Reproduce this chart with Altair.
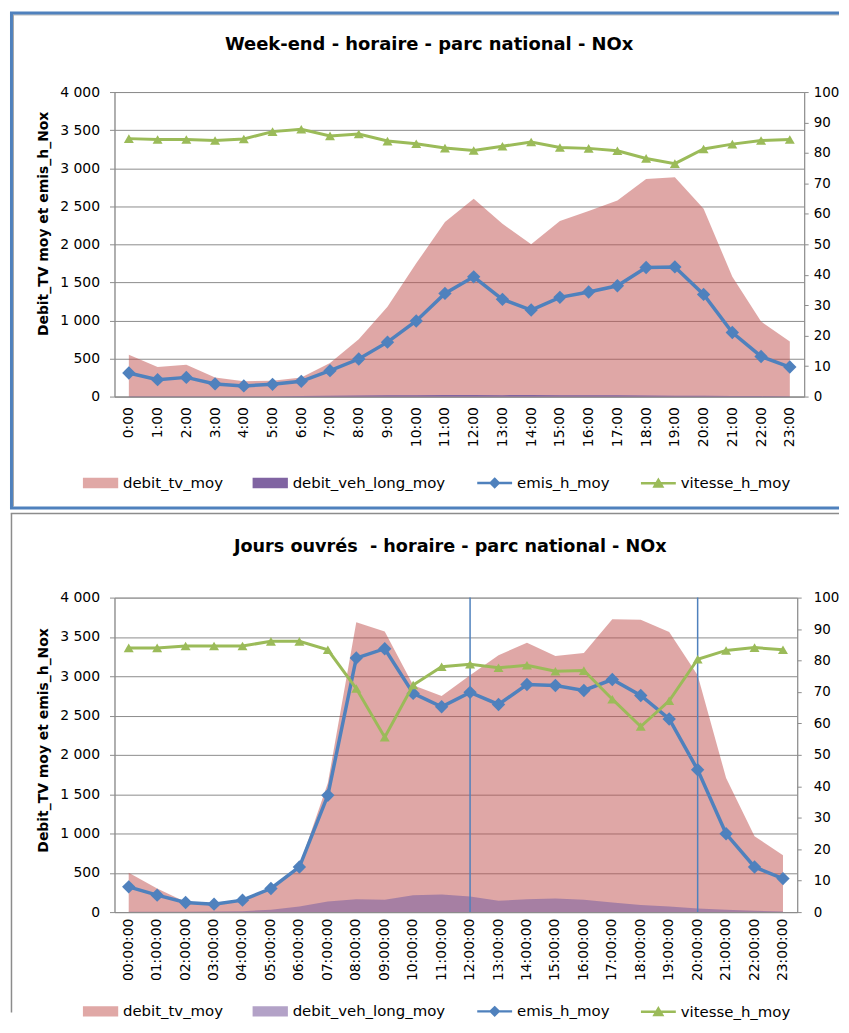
import altair as alt
import pandas as pd

# ---------------- data ----------------
hours_we = [f"{h}:00" for h in range(24)]
hours_jo = [f"{h:02d}:00:00" for h in range(24)]

debit_tv_we = [549, 388, 418, 252, 200, 209, 252, 440, 754, 1180, 1750, 2292,
               2597, 2270, 2000, 2305, 2436, 2575, 2858, 2880, 2466, 1573, 985, 723]
debit_veh_long_we = [5, 4, 3, 3, 3, 4, 6, 10, 14, 17, 19, 20,
                     20, 19, 20, 18, 17, 16, 14, 12, 10, 8, 6, 4]
emis_we = [310, 222, 252, 166, 140, 161, 200, 340, 493, 715, 993, 1355,
           1573, 1277, 1137, 1303, 1373, 1455, 1695, 1703, 1342, 841, 527, 388]
vitesse_we = [84.7, 84.4, 84.4, 84.1, 84.6, 87.0, 87.8, 85.6, 86.2, 83.9, 83.0, 81.6,
              80.8, 82.2, 83.6, 81.8, 81.5, 80.7, 78.2, 76.5, 81.3, 82.9, 84.1, 84.4]

debit_tv_jo = [502, 300, 130, 120, 160, 300, 586, 1641, 3688, 3570, 2886, 2747,
               3013, 3266, 3426, 3257, 3295, 3725, 3717, 3561, 3013, 1705, 966, 722]
debit_veh_long_jo = [5, 5, 5, 8, 12, 30, 72, 135, 165, 156, 215, 224,
                     198, 143, 165, 173, 156, 122, 89, 72, 46, 30, 17, 8]
emis_jo = [321, 215, 122, 101, 152, 300, 574, 1485, 3232, 3350, 2781, 2612,
           2795, 2641, 2895, 2882, 2819, 2958, 2755, 2456, 1810, 996, 574, 426]
vitesse_jo = [84.0, 84.0, 84.6, 84.6, 84.6, 86.1, 86.1, 83.4, 71.1, 55.6, 72.2, 78.0,
              78.8, 77.7, 78.5, 76.6, 76.8, 67.7, 59.0, 67.2, 80.4, 83.2, 84.1, 83.4]
rules_jo = ["12:00:00", "20:00:00"]

series = ["debit_tv_moy", "debit_veh_long_moy", "emis_h_moy", "vitesse_h_moy"]
y_left_ticks = list(range(0, 4001, 500))
y_right_ticks = list(range(0, 101, 10))

FONT = "DejaVu Sans"
GRID = "#8C8C8C"
RED = "#C0504D"
BLUE = "#4F81BD"
GREEN = "#9BBB59"
PURPLE = "#8064A2"

one = pd.DataFrame({"k": [0]})


def hline(y, x1, x2, color, w):
    return alt.Chart(one).mark_rule(color=color, strokeWidth=w).encode(
        x=alt.value(x1), x2=alt.value(x2), y=alt.value(y), y2=alt.value(y))


def vline(x, y1, y2, color, w):
    return alt.Chart(one).mark_rule(color=color, strokeWidth=w).encode(
        x=alt.value(x), x2=alt.value(x), y=alt.value(y1), y2=alt.value(y2))


def panel(hours, tv, veh, emis, vit, title, title_dx, title_y, title_size, width, height,
          veh_opacity, veh_legend_color, frames, legend_y, xlab_pad, rlab_pad, ytitle_y,
          rules=None):
    df = pd.DataFrame({"hour": hours, "tv": tv, "veh": veh, "emis": emis, "vit": vit})
    xenc = alt.X("hour:N", sort=hours, scale=alt.Scale(domain=hours),
                 axis=alt.Axis(title=None, labelAngle=270, ticks=False, labelPadding=xlab_pad,
                               labelFontSize=14, labelColor="black", domainColor=GRID,
                               grid=False, labelFont=FONT))
    yscale = alt.Scale(domain=[0, 4000], nice=False)
    laxis = alt.Axis(title="Debit_TV moy et emis_h_Nox", values=y_left_ticks,
                     labelExpr="replace(format(datum.value, ','), ',', ' ')",
                     grid=True, gridColor=GRID, domainColor=GRID, tickColor=GRID,
                     tickSize=5, labelPadding=10, labelFontSize=14, labelColor="black",
                     titleFontSize=14, titleFontWeight="bold", titleColor="black",
                     titleAngle=270, titleX=-71, titleY=ytitle_y, titleAlign="center",
                     titleBaseline="middle", labelFont=FONT, titleFont=FONT)
    base = alt.Chart(df)
    a_tv = base.mark_area(color=RED, opacity=0.5).encode(
        x=xenc, y=alt.Y("tv:Q", scale=yscale, axis=laxis))
    a_veh = base.mark_area(color=PURPLE, opacity=veh_opacity).encode(
        x=xenc, y=alt.Y("veh:Q", scale=yscale, axis=laxis))
    l_emis = base.mark_line(color=BLUE, strokeWidth=3.5,
                            point=alt.OverlayMarkDef(shape="diamond", size=180, filled=True,
                                                     color=BLUE)).encode(
        x=xenc, y=alt.Y("emis:Q", scale=yscale, axis=laxis))
    left_layers = [a_tv, a_veh]
    if rules:
        rdf = pd.DataFrame({"hour": rules})
        left_layers.append(alt.Chart(rdf).mark_rule(color=BLUE, strokeWidth=1.5).encode(x=xenc))
    left_layers.append(l_emis)
    left = alt.layer(*left_layers)
    right = base.mark_line(color=GREEN, strokeWidth=3,
                           point=alt.OverlayMarkDef(shape="triangle-up", size=100, filled=True,
                                                    color=GREEN)).encode(
        x=xenc,
        y=alt.Y("vit:Q", scale=alt.Scale(domain=[0, 100], nice=False),
                axis=alt.Axis(orient="right", title=None, values=y_right_ticks, grid=False,
                              domainColor=GRID, tickColor=GRID, tickSize=4,
                              labelPadding=rlab_pad, labelFontSize=13.5, labelColor="black",
                              labelFont=FONT)))

    fills = ["#E0A8A6", veh_legend_color, BLUE, GREEN]
    shapes = ["M-2.06,-0.5H2.06V0.5H-2.06Z",
              "M-2.06,-0.5H2.06V0.5H-2.06Z",
              "M-2.19,0H2.19M0,-0.5L0.5,0L0,0.5L-0.5,0Z",
              "M-2.19,0H2.19M-0.48,0.4L0,-0.42L0.48,0.4Z"]
    leg = alt.Legend(orient="none", legendX=-23.5, legendY=legend_y, direction="horizontal",
                     columns=4, columnPadding=25.5, symbolSize=256, symbolStrokeWidth=2.5,
                     labelFontSize=15, labelOffset=13, labelColor="black", labelFont=FONT,
                     title=None, padding=0, symbolOpacity=1)
    ldf = pd.DataFrame({"series": series})
    legend_layer = alt.Chart(ldf).mark_point(opacity=0, filled=True).encode(
        fill=alt.Fill("series:N", scale=alt.Scale(domain=series, range=fills), legend=leg),
        stroke=alt.Stroke("series:N", scale=alt.Scale(domain=series, range=fills), legend=leg),
        shape=alt.Shape("series:N", scale=alt.Scale(domain=series, range=shapes), legend=leg))

    ttl = alt.Chart(one).mark_text(text=title, align="left", baseline="middle",
                                   fontSize=title_size, fontWeight="bold", font=FONT,
                                   color="black").encode(
        x=alt.value(title_dx), y=alt.value(title_y))

    layers = [left, right, legend_layer, ttl] + frames
    return alt.layer(*layers).resolve_scale(y="independent").properties(
        width=width, height=height)


# top panel: plot origin at page (113, 91)
frames_top = [
    hline(-77.5, -102, 728, "#A6A6A6", 1),
    vline(-101.5, -77.5, 416.5, "#A6A6A6", 1),
    hline(-79.5, -105, 728, BLUE, 3),
    hline(418, -105, 728, BLUE, 3),
    vline(-103.5, -79.5, 418, BLUE, 3),
]
top = panel(hours_we, debit_tv_we, debit_veh_long_we, emis_we, vitesse_we,
            "Week-end - horaire - parc national - NOx", 111, -47, 18, 693, 306,
            1.0, PURPLE, frames_top, 383, 10, 5, 132)

# bottom panel: plot origin at page (113, 597)
frames_bot = [
    hline(-84.5, -104.25, 728, "#8C8C8C", 1.5),
    vline(-103.5, -84.5, 417, "#8C8C8C", 1.5),
]
bottom = panel(hours_jo, debit_tv_jo, debit_veh_long_jo, emis_jo, vitesse_jo,
               "Jours ouvrés\u00a0 - horaire - parc national - NOx", 120, -51, 17.7, 686, 316,
               0.6, "#B3A2C7", frames_bot, 406, 6, 12, 143, rules=rules_jo)

chart = alt.vconcat(top, bottom, spacing=2).resolve_scale(
    fill="independent", stroke="independent", shape="independent"
).resolve_legend(fill="independent", stroke="independent", shape="independent").properties(
    padding={"top": 0, "left": 0, "right": 0, "bottom": 0}
).configure(font=FONT).configure_view(stroke="#A6A6A6", strokeWidth=1)

chart.save("out.html", embed_options={"renderer": "svg", "actions": False})
